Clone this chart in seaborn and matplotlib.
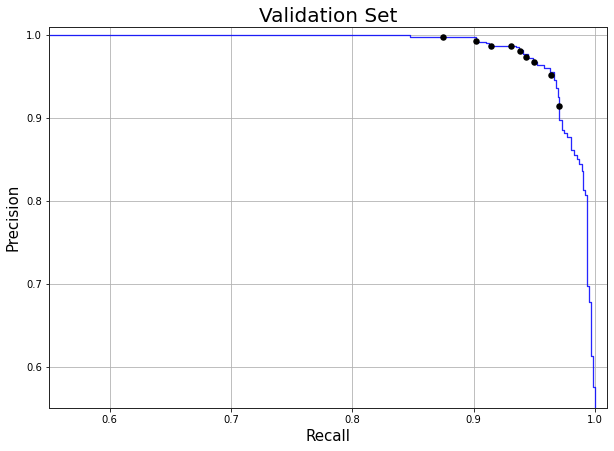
import numpy as np  # type: ignore
import matplotlib
matplotlib.use('Agg')
import matplotlib.pyplot as plt  # type: ignore
import seaborn as sns  # type: ignore

# step vertices of the precision-recall curve (start of each horizontal run)
recall = [0.0, 0.8473, 0.9017, 0.9099, 0.9124, 0.9347, 0.9372, 0.9405, 0.9446,
          0.9488, 0.9521, 0.9579, 0.9628, 0.9661, 0.9678, 0.9694, 0.9705,
          0.9733, 0.9746, 0.9769, 0.9802, 0.9829, 0.9851, 0.9870, 0.9890,
          0.9903, 0.9919, 0.9934, 0.9953, 0.9969, 0.9985, 1.0]
precision = [1.0, 0.9979, 0.9924, 0.9907, 0.9876, 0.9859, 0.9819, 0.9770, 0.9722,
             0.9674, 0.9637, 0.9601, 0.9553, 0.9456, 0.9360, 0.9251, 0.8973,
             0.8852, 0.8816, 0.8771, 0.8610, 0.8550, 0.8510, 0.8450, 0.8360,
             0.8135, 0.8066, 0.6979, 0.6777, 0.6133, 0.5758, 0.50]

# threshold markers
thr_recall = [0.8746, 0.9019, 0.9140, 0.9308, 0.9383, 0.9432, 0.9496, 0.9639, 0.9705]
thr_precision = [0.9976, 0.9936, 0.9876, 0.9876, 0.9815, 0.9743, 0.9682, 0.9517, 0.9142]

x_ticks = [0.6, 0.7, 0.8, 0.9, 1.0]
y_ticks = [0.6, 0.7, 0.8, 0.9, 1.0]

sns.set_style('ticks', {'text.color': 'black', 'axes.labelcolor': 'black',
                        'xtick.color': 'black', 'ytick.color': 'black'})
plt.rcParams['font.family'] = ['DejaVu Sans']

fig = plt.figure(figsize=(614 / 72, 451 / 72), dpi=72, facecolor='white')
ax = fig.add_axes([49 / 614, 1 - 408 / 451, (607 - 49) / 614, (408 - 27) / 451])

sns.lineplot(x=recall, y=precision, drawstyle='steps-post', sort=False,
             estimator=None, color='#0000ff', linewidth=1.3, alpha=0.85, ax=ax)
sns.scatterplot(x=thr_recall, y=thr_precision, color='black', s=42,
                edgecolor='black', linewidth=0, zorder=5, ax=ax)

ax.set_xlim(0.55, 1.01)
ax.set_ylim(0.55, 1.01)
ax.set_xticks(x_ticks)
ax.set_yticks(y_ticks)
ax.tick_params(labelsize=10, colors='black', length=3.5, width=0.8)
ax.grid(True, color='#b0b0b0', linewidth=0.8)
ax.set_axisbelow(True)
for spine in ax.spines.values():
    spine.set_color('#262626')
    spine.set_linewidth(1.0)

ax.set_title('Validation Set', fontsize=20, pad=5, color='black')
ax.set_xlabel('Recall', fontsize=15, labelpad=4, color='black')
ax.set_ylabel('Precision', fontsize=15, labelpad=6, color='black')

fig.savefig('out.png', dpi=72, facecolor='white')
